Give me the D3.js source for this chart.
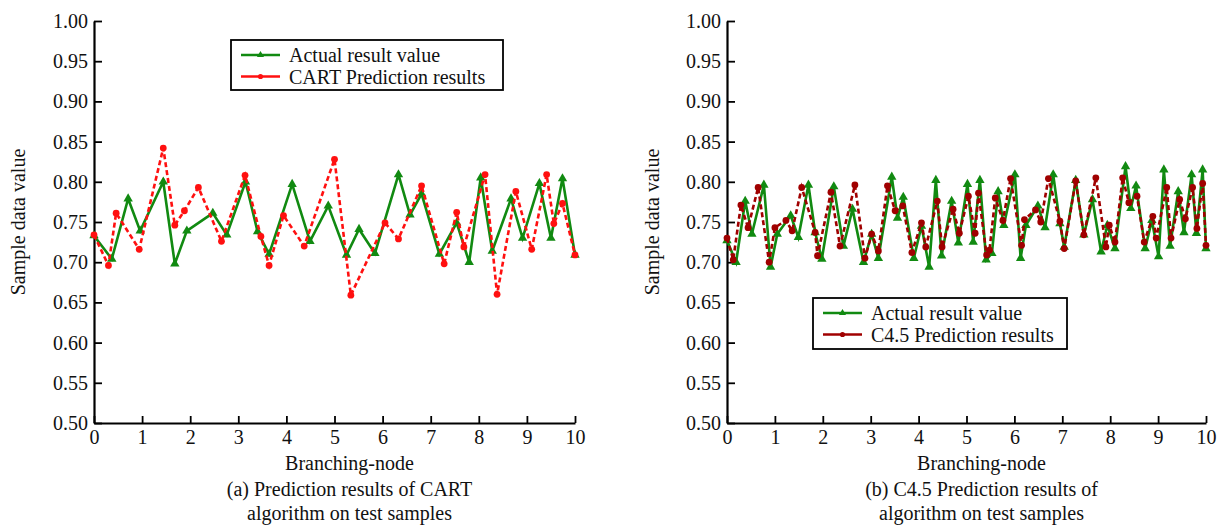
<!DOCTYPE html>
<html><head><meta charset="utf-8">
<script src="https://cdn.jsdelivr.net/npm/d3@7/dist/d3.min.js"></script>
<style>
body{margin:0;background:#fff;}
text{font-family:"Liberation Serif","Times New Roman",serif;fill:#111;}
</style>
</head><body>
<svg id="chart" width="1217" height="525"></svg>
<script>
// ---------- data ----------
const xTicks = [0,1,2,3,4,5,6,7,8,9,10];
const yTicks = [0.50,0.55,0.60,0.65,0.70,0.75,0.80,0.85,0.90,0.95,1.00];

// (a) CART
const cartActualX = [0,0.37,0.71,0.96,1.44,1.68,1.93,2.47,2.76,3.15,3.40,3.64,4.12,4.49,4.87,5.25,5.51,5.84,6.33,6.57,6.81,7.18,7.54,7.80,8.04,8.28,8.67,8.91,9.26,9.50,9.74,10];
const cartActualY = [0.733,0.704,0.779,0.739,0.800,0.698,0.739,0.761,0.734,0.800,0.738,0.710,0.797,0.726,0.770,0.709,0.741,0.711,0.809,0.759,0.785,0.710,0.749,0.700,0.805,0.714,0.779,0.730,0.798,0.730,0.804,0.709];
const cartPredX = [0,0.30,0.46,0.94,1.44,1.68,1.88,2.17,2.65,3.14,3.47,3.64,3.94,4.37,5.00,5.34,6.05,6.33,6.81,7.28,7.54,7.69,8.13,8.38,8.77,9.10,9.41,9.56,9.74,10];
const cartPredY = [0.734,0.696,0.761,0.716,0.842,0.746,0.764,0.793,0.726,0.808,0.732,0.696,0.758,0.720,0.828,0.659,0.749,0.729,0.795,0.698,0.762,0.719,0.809,0.660,0.788,0.716,0.809,0.748,0.773,0.709];

// (b) C4.5
const c45ActualX = [0,0.19,0.38,0.52,0.77,0.91,1.05,1.33,1.49,1.70,1.84,1.98,2.23,2.43,2.62,2.85,3.02,3.16,3.44,3.56,3.68,3.90,4.06,4.22,4.36,4.48,4.69,4.83,5.02,5.14,5.28,5.41,5.53,5.66,5.78,6.01,6.13,6.24,6.49,6.64,6.81,6.95,7.04,7.28,7.45,7.63,7.81,7.94,8.10,8.32,8.43,8.54,8.73,8.87,9.01,9.12,9.25,9.42,9.54,9.70,9.80,9.93,10];
const c45ActualY = [0.727,0.700,0.776,0.735,0.796,0.694,0.735,0.758,0.731,0.796,0.737,0.704,0.794,0.720,0.766,0.700,0.735,0.705,0.806,0.755,0.781,0.705,0.745,0.694,0.802,0.708,0.776,0.724,0.797,0.725,0.802,0.703,0.711,0.788,0.746,0.809,0.705,0.746,0.770,0.743,0.809,0.748,0.719,0.802,0.734,0.778,0.713,0.746,0.717,0.819,0.767,0.795,0.717,0.752,0.707,0.815,0.720,0.788,0.737,0.809,0.736,0.815,0.717];
const c45PredX = [0,0.13,0.29,0.44,0.65,0.88,1.00,1.23,1.36,1.56,1.84,1.89,2.17,2.36,2.67,2.88,3.02,3.16,3.35,3.51,3.67,3.86,4.06,4.15,4.39,4.49,4.72,4.85,5.04,5.18,5.25,5.42,5.48,5.60,5.76,5.92,6.15,6.21,6.44,6.55,6.71,6.95,7.04,7.28,7.45,7.70,7.91,7.98,8.10,8.26,8.39,8.56,8.71,8.89,8.96,9.18,9.27,9.45,9.57,9.72,9.81,9.93,10];
const c45PredY = [0.730,0.703,0.771,0.743,0.793,0.700,0.743,0.752,0.739,0.793,0.737,0.708,0.787,0.720,0.796,0.705,0.735,0.714,0.795,0.764,0.770,0.712,0.749,0.719,0.776,0.719,0.766,0.736,0.782,0.736,0.786,0.709,0.715,0.780,0.752,0.804,0.721,0.753,0.765,0.750,0.804,0.751,0.717,0.801,0.734,0.805,0.719,0.746,0.725,0.805,0.774,0.782,0.725,0.757,0.730,0.793,0.730,0.778,0.754,0.793,0.742,0.798,0.721];

const panels = [
  {left:94, right:575, actX:cartActualX, actY:cartActualY, prX:cartPredX, prY:cartPredY,
   predColor:"#ff1010", predLabel:"CART Prediction results",
   legend:{x:231, y:40, w:272, h:50},
   caption:["(a) Prediction results of CART","algorithm on test samples"], yTitleX:18},
  {left:727, right:1206, actX:c45ActualX, actY:c45ActualY, prX:c45PredX, prY:c45PredY,
   predColor:"#a00000", predLabel:"C4.5 Prediction results",
   legend:{x:813, y:298, w:254, h:51},
   caption:["(b) C4.5 Prediction results of","algorithm on test samples"], yTitleX:652}
];

const svg = d3.select("#chart");
const plotTop = 21, plotBottom = 423;
const green = "#118a11";
const FS = "20px";

panels.forEach(p => {
  const x = d3.scaleLinear().domain([0,10]).range([p.left, p.right]);
  const y = d3.scaleLinear().domain([0.5,1.0]).range([plotBottom, plotTop]);
  const g = svg.append("g");

  // axes
  const ya = g.append("g").attr("transform",`translate(${p.left},0)`)
    .call(d3.axisLeft(y).tickValues(yTicks).tickFormat(d3.format(".2f"))
      .tickSizeInner(-8).tickSizeOuter(0).tickPadding(6));
  const xa = g.append("g").attr("transform",`translate(0,${plotBottom})`)
    .call(d3.axisBottom(x).tickValues(xTicks).tickFormat(d3.format("d"))
      .tickSizeInner(-7).tickSizeOuter(0).tickPadding(7));
  [ya, xa].forEach(a => {
    a.select(".domain").attr("stroke","#000").attr("stroke-width",2.2);
    a.selectAll(".tick line").attr("stroke","#000").attr("stroke-width",1.8);
    a.selectAll("text").style("font-size",FS).attr("fill","#111")
      .style("font-family",'"Liberation Serif","Times New Roman",serif');
  });

  // axis titles
  g.append("text").attr("transform",`translate(${p.yTitleX},${(plotTop+plotBottom)/2}) rotate(-90)`)
    .attr("text-anchor","middle").attr("dominant-baseline","central")
    .style("font-size",FS).text("Sample data value");
  const cx = (p.left+p.right)/2 + 15;
  g.append("text").attr("x",cx).attr("y",470).attr("text-anchor","middle")
    .style("font-size",FS).text("Branching-node");
  p.caption.forEach((c,i) => {
    g.append("text").attr("x",cx).attr("y",496+i*24).attr("text-anchor","middle")
      .style("font-size",FS).text(c);
  });

  const line = d3.line().x(d=>x(d[0])).y(d=>y(d[1]));
  const act = p.actX.map((v,i)=>[v,p.actY[i]]);
  const pr = p.prX.map((v,i)=>[v,p.prY[i]]);

  g.append("path").datum(act).attr("d",line).attr("fill","none")
    .attr("stroke",green).attr("stroke-width",2.6).attr("stroke-linejoin","miter");
  g.selectAll(".tri").data(act).enter().append("path")
    .attr("transform",d=>`translate(${x(d[0])},${y(d[1])})`)
    .attr("d",d3.symbol(d3.symbolTriangle).size(38)).attr("fill",green);

  g.append("path").datum(pr).attr("d",line).attr("fill","none")
    .attr("stroke",p.predColor).attr("stroke-width",2.6).attr("stroke-dasharray","5,3");
  g.selectAll(".dot").data(pr).enter().append("circle")
    .attr("cx",d=>x(d[0])).attr("cy",d=>y(d[1])).attr("r",3.4).attr("fill",p.predColor);

  // legend
  const L = p.legend;
  const lg = g.append("g");
  lg.append("rect").attr("x",L.x).attr("y",L.y).attr("width",L.w).attr("height",L.h)
    .attr("fill","#fff").attr("stroke","#000").attr("stroke-width",1.8);
  const items = [{c:green, t:"Actual result value", m:"tri"},{c:p.predColor, t:p.predLabel, m:"dot"}];
  items.forEach((it,i) => {
    const ly = L.y + 15 + i*21.5;
    lg.append("line").attr("x1",L.x+10).attr("x2",L.x+49).attr("y1",ly).attr("y2",ly)
      .attr("stroke",it.c).attr("stroke-width",2.6);
    if (it.m==="tri") lg.append("path").attr("transform",`translate(${L.x+29.5},${ly})`)
      .attr("d",d3.symbol(d3.symbolTriangle).size(22)).attr("fill",it.c);
    else lg.append("circle").attr("cx",L.x+29.5).attr("cy",ly).attr("r",2.6).attr("fill",it.c);
    lg.append("text").attr("x",L.x+58).attr("y",ly).attr("dominant-baseline","central")
      .style("font-size",FS).text(it.t);
  });
});
</script>
</body></html>
